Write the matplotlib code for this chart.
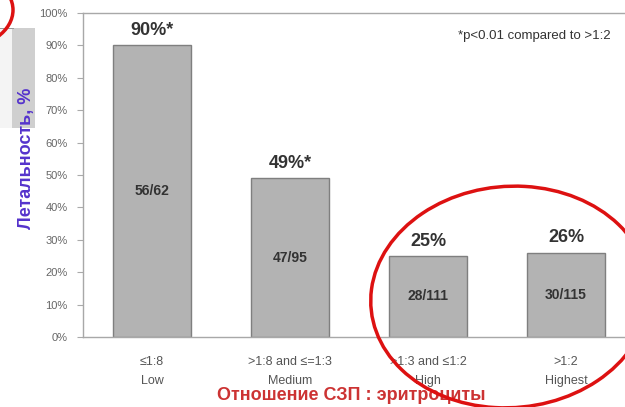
import matplotlib.pyplot as plt
from matplotlib.patches import Ellipse, Rectangle

plt.rcParams['font.family'] = ['Liberation Sans', 'DejaVu Sans']

categories = ['≤1:8\nLow', '>1:8 and ≤=1:3\nMedium', '>1:3 and ≤1:2\nHigh', '>1:2\nHighest']
mortality = [90, 49, 25, 26]
top_labels = ['90%*', '49%*', '25%', '26%']
counts = ['56/62', '47/95', '28/111', '30/115']
yticks = list(range(0, 101, 10))

W, H = 625, 407
fig = plt.figure(figsize=(W / 100, H / 100), dpi=100)


def fx(px):
    return px / W


def fy(py):
    return 1 - py / H


ax = fig.add_axes([fx(83), fy(337), fx(552), (337 - 13) / H])
x = range(len(categories))
ax.bar(x, mortality, width=0.565, color='#b3b3b3', edgecolor='#7f7f7f', linewidth=1.0, zorder=2)
ax.set_xlim(-0.5, 3.5)
ax.set_ylim(0, 100)
ax.set_yticks(yticks)
ax.set_yticklabels([f'{t}%' for t in yticks], fontsize=8, color='#666666')
ax.set_xticks(list(x))
ax.set_xticklabels(categories, fontsize=9, color='#555555', linespacing=1.75)
ax.tick_params(axis='x', length=0, pad=14)
ax.tick_params(axis='y', length=4, color='#aaaaaa', pad=7)
for s in ax.spines.values():
    s.set_color('#a8a8a8')
    s.set_linewidth(1.0)

for i, v in enumerate(mortality):
    ax.text(i, v + 2, top_labels[i], ha='center', va='bottom', fontsize=13,
            fontweight='bold', color='#333333')
    ax.text(i, v / 2, counts[i], ha='center', va='center',
            fontsize=10, fontweight='bold', color='#333333')

ax.text(0.955, 0.93, '*p<0.01 compared to >1:2', transform=ax.transAxes,
        ha='right', va='center', fontsize=9.5, color='#333333')

fig.text(fx(26), fy(158), 'Летальность, %', rotation=90, ha='center', va='center',
         fontsize=13, fontweight='bold', color='#5533cc')
fig.text(fx(351), fy(396), 'Отношение СЗП : эритроциты', ha='center', va='center',
         fontsize=13, fontweight='bold', color='#cc3333')

# slide decorations
fig.patches.append(Rectangle((fx(12), fy(128)), fx(23), 100 / H, transform=fig.transFigure,
                             facecolor='#cfcfcf', edgecolor='none', zorder=0))
fig.patches.append(Rectangle((0, fy(128)), fx(12), 100 / H, transform=fig.transFigure,
                             facecolor='#f4f4f4', edgecolor='none', zorder=0))
fig.patches.append(Rectangle((0, fy(29)), fx(14), 1.2 / H, transform=fig.transFigure,
                             facecolor='#999999', edgecolor='none', zorder=1))
fig.patches.append(Ellipse((fx(-40), fy(10)), fx(106), 76 / H, transform=fig.transFigure,
                           fill=False, edgecolor='#dd1111', lw=2.5, zorder=5))
fig.patches.append(Ellipse((fx(510), fy(297)), fx(278), 222 / H, angle=-5,
                           transform=fig.transFigure, fill=False, edgecolor='#dd1111',
                           lw=2.5, zorder=5))

fig.savefig('out.png', dpi=100)
